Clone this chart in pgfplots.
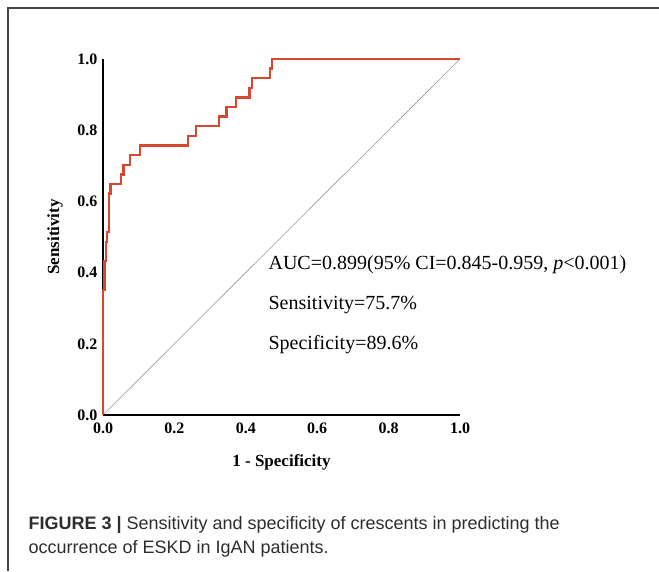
\documentclass[border=0pt]{standalone}
\usepackage{fontspec}
\setmainfont{Liberation Serif}
\newfontfamily\capfont{Liberation Sans}
\usepackage{pgfplots}
\pgfplotsset{compat=1.18}
\definecolor{roc}{RGB}{214,72,47}
\definecolor{framegray}{RGB}{70,70,70}
\definecolor{captext}{RGB}{45,45,45}
\begin{document}
\begin{tikzpicture}[x=1pt,y=1pt]
\useasboundingbox (0,0) rectangle (659,571);
\draw[framegray, line width=1.6pt] (8,0) -- (8,563) -- (659,563);
\begin{axis}[
  at={(103pt,156pt)}, anchor=south west,
  width=357pt, height=356pt, scale only axis,
  xmin=0, xmax=1, ymin=0, ymax=1,
  axis lines=left,
  axis line style={-, line width=2pt, black},
  xtick={0,0.2,0.4,0.6,0.8,1},
  ytick={0,0.2,0.4,0.6,0.8,1},
  major tick length=0pt,
  /pgf/number format/fixed,
  /pgf/number format/fixed zerofill,
  /pgf/number format/precision=1,
  /pgf/number format/assume math mode=true,
  tick label style={font=\bfseries\fontsize{16}{16}\selectfont},
  xticklabel style={yshift=-4pt},
  yticklabel style={xshift=-2pt},
  xlabel={1 - Specificity},
  ylabel={Sensitivity},
  label style={font=\bfseries\fontsize{17}{17}\selectfont},
  xlabel style={at={(axis description cs:0.5,-0.132)}, anchor=center},
  ylabel style={at={(axis description cs:-0.134,0.5)}, anchor=center},
  clip=false,
]
\addplot[gray!80, line width=0.6pt] coordinates {(0,0) (1,1)};
\addplot[roc, line width=2.4pt, line join=miter] coordinates {
  (0,0) (0,0.351) (0.004,0.351) (0.004,0.432) (0.008,0.432) (0.008,0.486)
  (0.012,0.486) (0.012,0.514) (0.017,0.514) (0.017,0.622) (0.021,0.622)
  (0.021,0.649) (0.050,0.649) (0.050,0.676) (0.057,0.676) (0.057,0.703)
  (0.076,0.703) (0.076,0.730) (0.104,0.730) (0.104,0.757) (0.238,0.757)
  (0.238,0.784) (0.261,0.784) (0.261,0.811) (0.325,0.811) (0.325,0.838)
  (0.346,0.838) (0.346,0.865) (0.373,0.865) (0.373,0.892) (0.410,0.892)
  (0.410,0.919) (0.418,0.919) (0.418,0.946) (0.468,0.946) (0.468,0.973)
  (0.473,0.973) (0.473,1) (1,1)
};
\node[anchor=west, font=\fontsize{20}{20}\selectfont] at (axis cs:0.454,0.421)
  {AUC=0.899(95\% CI=0.845-0.959, \textit{p}<0.001)};
\node[anchor=west, font=\fontsize{20}{20}\selectfont] at (axis cs:0.454,0.309)
  {Sensitivity=75.7\%};
\node[anchor=west, font=\fontsize{20}{20}\selectfont] at (axis cs:0.454,0.197)
  {Specificity=89.6\%};
\end{axis}
\node[anchor=base west, text=captext, font=\capfont\fontsize{18}{18}\selectfont] at (25,42)
  {\textbf{FIGURE 3 |} Sensitivity and specificity of crescents in predicting the};
\node[anchor=base west, text=captext, font=\capfont\fontsize{18}{18}\selectfont] at (25,18)
  {occurrence of ESKD in IgAN patients.};
\end{tikzpicture}
\end{document}
